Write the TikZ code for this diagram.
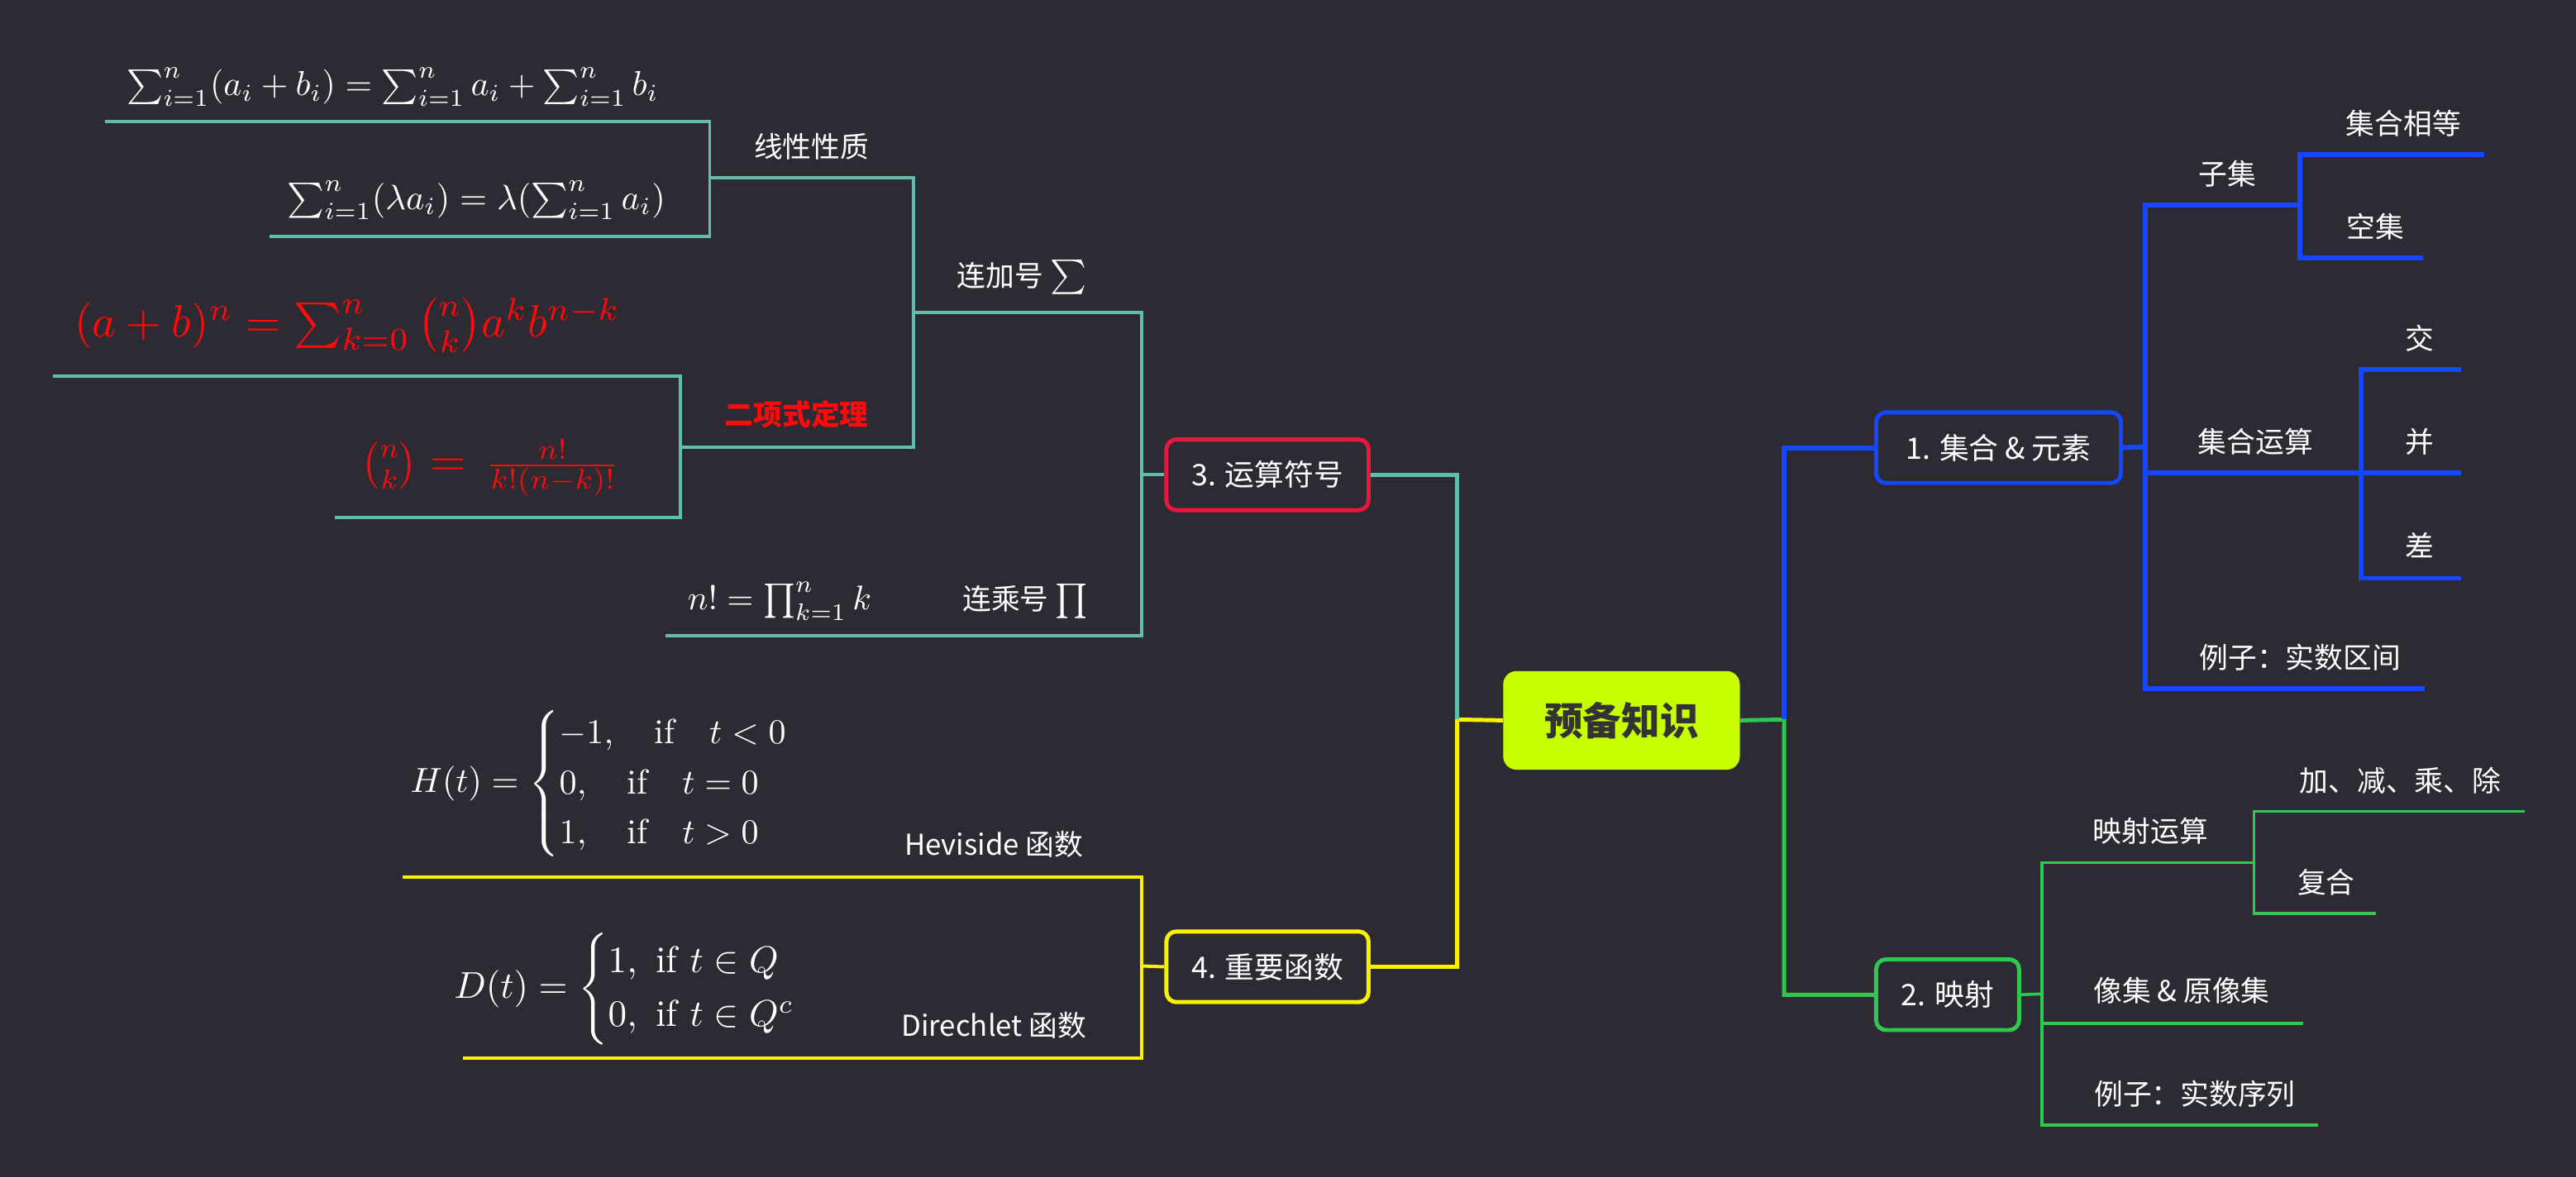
\documentclass[tikz,border=0pt]{standalone}
\usepackage{fontspec}
\usepackage{amsmath}
\usepackage{graphicx}
\newfontfamily\cjk{Noto Sans CJK SC}
\newcommand{\fmla}[2]{\scalebox{#1}{\fontsize{10}{12}\selectfont$#2$}}
\definecolor{bgc}{HTML}{2D2A33}
\definecolor{tealc}{HTML}{5FBFAE}
\definecolor{yelc}{HTML}{F8F200}
\definecolor{bluec}{HTML}{1448FF}
\definecolor{greenc}{HTML}{2EC84E}
\definecolor{redc}{HTML}{E8183C}
\definecolor{limec}{HTML}{C8FF00}
\definecolor{rootTxt}{HTML}{333333}
\definecolor{fred}{HTML}{FF0A0A}
\tikzset{
  lbl/.style={text=white,font=\cjk\fontsize{17.5}{21}\selectfont,inner sep=0pt},
  mth/.style={text=white,inner sep=0pt},
  branchbox/.style={draw=#1,line width=2.5pt,rounded corners=6pt,fill=bgc,text=white,
     font=\cjk\fontsize{18}{21}\selectfont,minimum height=43pt,inner sep=0pt},
  conn/.style={draw=#1,line join=miter},
}
\begin{document}
\begin{tikzpicture}[x=1pt,y=-1pt]
\fill[bgc] (0,0) rectangle (1568,716.6);
\useasboundingbox (0,0) rectangle (1568,716.6);

% ---------- nodes ----------
\node[fill=limec,rounded corners=8pt,minimum width=144pt,minimum height=60pt,inner sep=0pt,
  text=rootTxt,font=\cjk\bfseries\fontsize{23.5}{26}\selectfont] (root) at (987,438.5) {预备知识};
\node[branchbox=bluec,minimum width=149pt] (n1) at (1216.5,272.5) {1. 集合 \& 元素};
\node[branchbox=greenc,minimum width=87pt] (n2) at (1185.5,605.5) {2. 映射};
\node[branchbox=redc,minimum width=123pt] (n3) at (771.5,289) {3. 运算符号};
\node[branchbox=yelc,minimum width=123pt] (n4) at (771.5,588.5) {4. 重要函数};

% junction coordinates
\coordinate (jl) at (887,438);
\coordinate (jr) at (1086,438);
\coordinate (j1) at (1306,272);
\coordinate (j2) at (1243,605);
\coordinate (j3) at (695,289);
\coordinate (j4) at (695,588);
% underline ends
\coordinate (subE) at (1400,125);
\coordinate (eqE) at (1512,94);
\coordinate (emE) at (1475,157);
\coordinate (opE) at (1437,288);
\coordinate (jiaoE) at (1498,225);
\coordinate (bingE) at (1498,288);
\coordinate (chaE) at (1498,352);
\coordinate (exE) at (1476,419);
\coordinate (mapE) at (1372,525);
\coordinate (addE) at (1537,494);
\coordinate (compE) at (1446,556);
\coordinate (imgE) at (1402,623);
\coordinate (ex2E) at (1411,685);
\coordinate (sumE) at (556,190);
\coordinate (linE) at (432,108);
\coordinate (f1E) at (64,74);
\coordinate (f2E) at (164,144);
\coordinate (binE) at (414,272);
\coordinate (f3E) at (32,229);
\coordinate (f4E) at (204,315);
\coordinate (prodE) at (573,387);
\coordinate (f5E) at (405,387);
\coordinate (hevE) at (540,534);
\coordinate (f6E) at (245,534);
\coordinate (dirE) at (540,644);
\coordinate (f7E) at (282,644);

% ---------- labels ----------
\node[lbl] (l-sub) at (1356,106) {子集};
\node[lbl] (l-eq) at (1463,75) {集合相等};
\node[lbl] (l-em) at (1446,138) {空集};
\node[lbl] (l-op) at (1373,269) {集合运算};
\node[lbl] (l-jiao) at (1473,206) {交};
\node[lbl] (l-bing) at (1473,269) {并};
\node[lbl] (l-cha) at (1473,332) {差};
\node[lbl] (l-ex) at (1400,400) {例子：实数区间};
\node[lbl] (l-map) at (1309,506) {映射运算};
\node[lbl] (l-add) at (1461,475) {加、减、乘、除};
\node[lbl] (l-comp) at (1416,537) {复合};
\node[lbl] (l-img) at (1328,603) {像集 \& 原像集};
\node[lbl] (l-ex2) at (1336,666) {例子：实数序列};
\node[lbl] (l-lin) at (494,89) {线性性质};
\node[lbl] (l-sum) at (622,169) {连加号 \fmla{2.1}{\sum}};
\node[lbl,text=fred,font=\cjk\bfseries\fontsize{17.5}{21}\selectfont] (l-bin) at (485,252) {二项式定理};
\node[lbl] (l-prod) at (624,366) {连乘号 \fmla{2.1}{\prod}};
\node[lbl] (l-hev) at (605,514) {Heviside 函数};
\node[lbl] (l-dir) at (605,624) {Direchlet 函数};

% ---------- formulas ----------
\node[mth] (f1) at (239,53) {\fmla{2.11}{\sum_{i=1}^n(a_i+b_i)=\sum_{i=1}^n a_i+\sum_{i=1}^n b_i}};
\node[mth] (f2) at (290,122) {\fmla{2.14}{\sum_{i=1}^n(\lambda a_i)=\lambda(\sum_{i=1}^n a_i)}};
\node[mth,text=fred] (f3) at (211.5,198) {\fmla{2.76}{(a+b)^n=\sum_{k=0}^n\binom{n}{k}a^kb^{n-k}}};
\node[mth,text=fred] (f4) at (298.5,285) {\fmla{2.4}{\binom{n}{k}}\hspace{8pt}\fmla{2.8}{=}\hspace{12pt}\fmla{2.45}{\frac{n!}{k!(n-k)!}}};
\node[mth] (f5) at (474.5,366) {\fmla{2.08}{n!=\prod_{k=1}^n k}};
\node[mth] (f6) at (376,477) {\fmla{2.12}{H(t)=\begin{cases}-1,\quad \text{if}\quad t<0\\ 0,\quad \text{if}\quad t=0\\ 1,\quad \text{if}\quad t>0\end{cases}}};
\node[mth] (f7) at (392.5,602) {\fmla{2.27}{D(t)=\begin{cases}1,\ \text{if}\ t\in Q\\ 0,\ \text{if}\ t\in Q^c\end{cases}}};

% ---------- connectors ----------
\draw[conn=yelc,line width=2.5pt] (root.west) -- (jl) |- (n4.east);
\draw[conn=tealc,line width=2.5pt] (jl) |- (n3.east);
\draw[conn=greenc,line width=2.5pt] (root.east) -- (jr) |- (n2.west);
\draw[conn=bluec,line width=3pt] (jr) |- (n1.west);

% blue subtree
\begin{scope}[line width=3pt]
\draw[conn=bluec] (n1.east) -- (j1);
\draw[conn=bluec] (j1) |- (subE);
\draw[conn=bluec] (subE) |- (eqE);
\draw[conn=bluec] (subE) |- (emE);
\draw[conn=bluec] (j1) |- (opE);
\draw[conn=bluec] (opE) |- (jiaoE);
\draw[conn=bluec] (opE) -- (bingE);
\draw[conn=bluec] (opE) |- (chaE);
\draw[conn=bluec] (j1) |- (exE);
\end{scope}

% green subtree
\begin{scope}[line width=1.8pt]
\draw[conn=greenc] (n2.east) -- (j2);
\draw[conn=greenc] (j2) |- (mapE);
\draw[conn=greenc] (mapE) |- (addE);
\draw[conn=greenc] (mapE) |- (compE);
\draw[conn=greenc] (j2) |- (imgE);
\draw[conn=greenc] (j2) |- (ex2E);
\end{scope}

% teal subtree
\begin{scope}[line width=2pt]
\draw[conn=tealc] (n3.west) -- (j3);
\draw[conn=tealc] (j3) |- (sumE);
\draw[conn=tealc] (sumE) |- (linE);
\draw[conn=tealc] (linE) |- (f1E);
\draw[conn=tealc] (linE) |- (f2E);
\draw[conn=tealc] (sumE) |- (binE);
\draw[conn=tealc] (binE) |- (f3E);
\draw[conn=tealc] (binE) |- (f4E);
\draw[conn=tealc] (j3) |- (prodE);
\draw[conn=tealc] (prodE) -- (f5E);
\end{scope}

% yellow subtree
\begin{scope}[line width=2pt]
\draw[conn=yelc] (n4.west) -- (j4);
\draw[conn=yelc] (j4) |- (hevE);
\draw[conn=yelc] (hevE) -- (f6E);
\draw[conn=yelc] (j4) |- (dirE);
\draw[conn=yelc] (dirE) -- (f7E);
\end{scope}
\end{tikzpicture}
\end{document}
